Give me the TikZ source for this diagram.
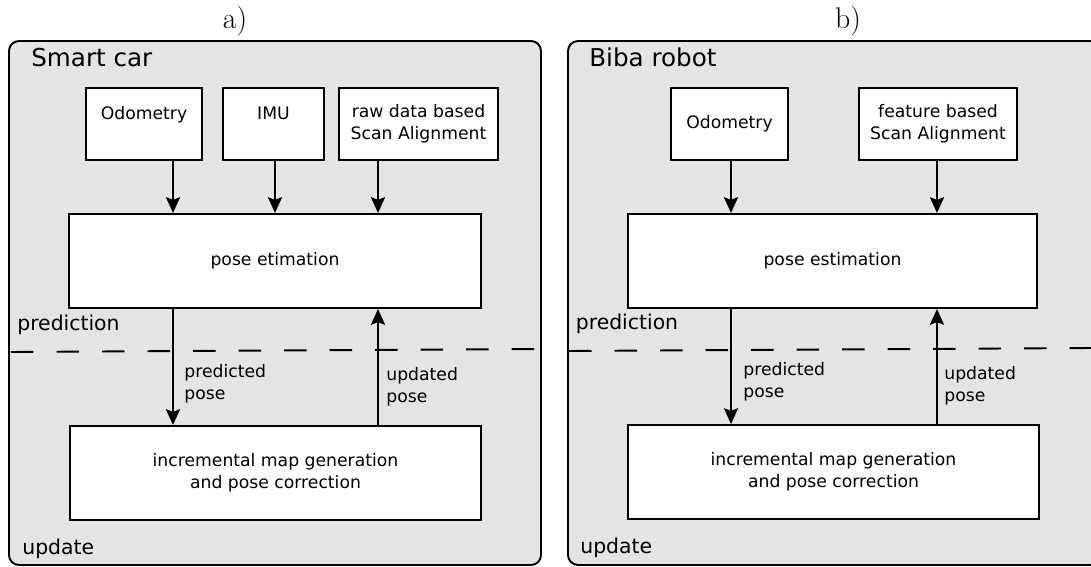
\documentclass[tikz,border=0pt]{standalone}
\usepackage{fontspec}
\newfontfamily\dvs{DejaVu Sans}
\usetikzlibrary{positioning, arrows.meta}
\definecolor{panelgray}{RGB}{228,228,228}

\begin{document}
\begin{tikzpicture}[x=0.02cm, y=-0.02cm,
    box/.style={draw, fill=white, line width=1.1pt, inner sep=0pt, align=center,
        minimum height=1.88cm, font=\fontsize{9.8}{12.7}\selectfont\dvs},
    small/.style={box, minimum height=1.44cm},
    arr/.style={-{Stealth[length=9pt, width=8pt, inset=1.5pt]}, line width=1.1pt},
    lbl/.style={inner sep=0pt, align=left, font=\fontsize{9.8}{12.7}\selectfont\dvs},
    phase/.style={inner sep=0pt, anchor=base west, font=\fontsize{11.6}{14}\selectfont\dvs},
    title/.style={inner sep=0pt, anchor=base west, font=\fontsize{14}{17}\selectfont\dvs},
    panel/.style={draw, fill=panelgray, line width=1.1pt, rounded corners=5.7pt},
    border/.style={dash pattern=on 12.8pt off 13.1pt, line width=1.1pt}]
            \useasboundingbox (0,0) rectangle (1091,567);
            \clip (0,0) rectangle (1091,567);

            % panels
            \draw [panel] (9,41) rectangle (541,565);
            \draw [panel] (568,41) rectangle (1100,565);
            \node [anchor=base] (ta) at (235,29) {\fontsize{17}{20}\selectfont a)};
            \node [anchor=base] (tb) at (848,29) {\fontsize{17}{20}\selectfont b)};
            \node [title] (car) at (31,67) {Smart car};
            \node [title] (robot) at (589,67) {Biba robot};

            \draw [border] (11,352) -- (541,349);
            \draw [border] (569,351) -- (1091,348);
            \node [phase] (predictA) at (17,331) {prediction};
            \node [phase] (updateA) at (22,554) {update};
            \node [phase] (predictB) at (575.5,329) {prediction};
            \node [phase] (updateB) at (580,553) {update};

            % a) smart car
            \node [small, minimum width=2.32cm] (odoA) at (144,124) {Odometry\\~};
            \node [small, minimum width=2.02cm] (imu) at (273.5,124) {IMU\\~};
            \node [small, minimum width=3.18cm] (raw) at (418.5,124) {raw data based\\Scan Alignment};
            \node [box, minimum width=8.24cm] (poseA) at (275,261) {pose etimation};
            \node [box, minimum width=8.22cm] (mapA) at (275.5,473) {incremental map generation\\and pose correction};

            \coordinate (a1) at (173,0);
            \coordinate (a2) at (275,0);
            \coordinate (a3) at (378,0);
            \draw [arr] (odoA.south -| a1) -- (poseA.north -| a1);
            \draw [arr] (imu.south -| a2) -- (poseA.north -| a2);
            \draw [arr] (raw.south -| a3) -- (poseA.north -| a3);
            \draw [arr] (poseA.south -| a1) -- (mapA.north -| a1);
            \draw [arr] (mapA.north -| a3) -- (poseA.south -| a3);
            \node [lbl, anchor=west] (predA) at (184,383.6) {predicted\\pose};
            \node [lbl, anchor=west] (updA) at (386,386.6) {updated\\pose};

            % b) biba robot
            \node [small, minimum width=2.34cm] (odoB) at (729.5,124) {Odometry};
            \node [small, minimum width=3.16cm] (feat) at (938,124) {feature based\\Scan Alignment};
            \node [box, minimum width=8.18cm] (poseB) at (832.5,261) {pose estimation};
            \node [box, minimum width=8.22cm] (mapB) at (833.5,472) {incremental map generation\\and pose correction};

            \coordinate (b1) at (731,0);
            \coordinate (b2) at (937,0);
            \draw [arr] (odoB.south -| b1) -- (poseB.north -| b1);
            \draw [arr] (feat.south -| b2) -- (poseB.north -| b2);
            \draw [arr] (poseB.south -| b1) -- (mapB.north -| b1);
            \draw [arr] (mapB.north -| b2) -- (poseB.south -| b2);
            \node [lbl, anchor=west] (predB) at (743,381.6) {predicted\\pose};
            \node [lbl, anchor=west] (updB) at (944,385.6) {updated\\pose};
        \end{tikzpicture}
\end{document}
